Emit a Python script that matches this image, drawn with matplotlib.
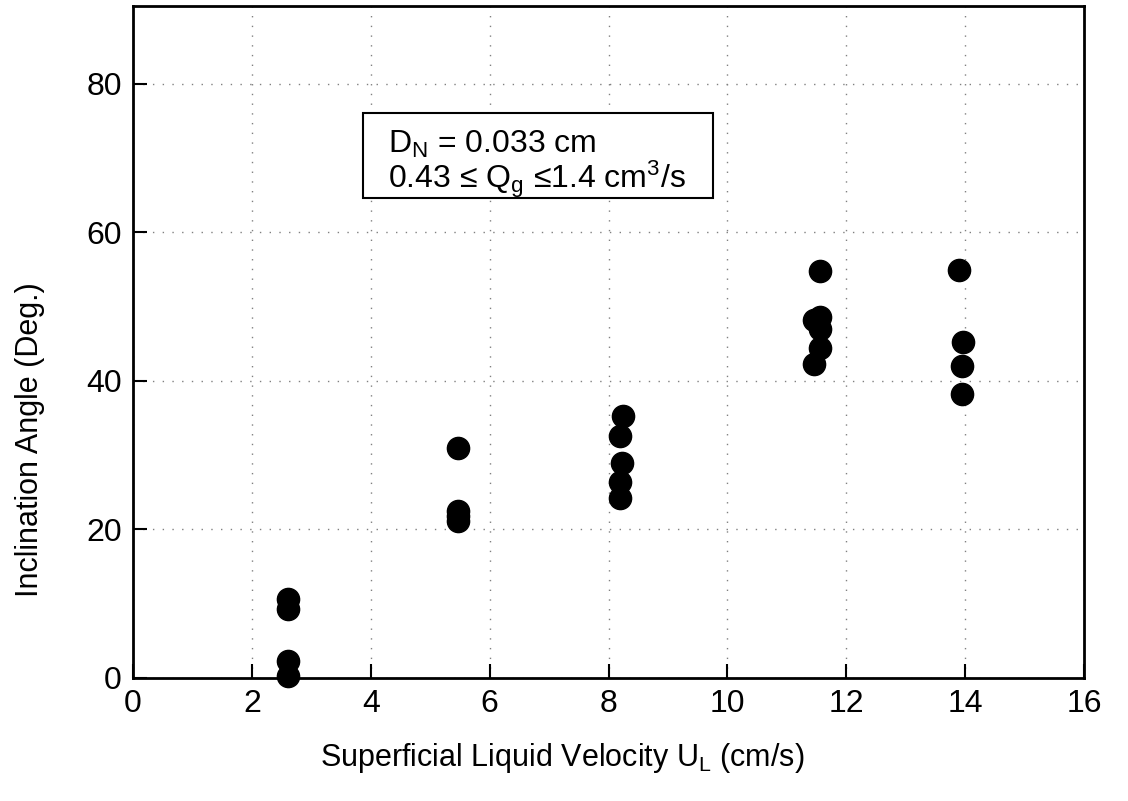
import matplotlib
matplotlib.use("Agg")
import matplotlib.pyplot as plt
from matplotlib.patches import Rectangle

plt.rcParams['font.family'] = ['Liberation Sans', 'DejaVu Sans']
plt.rcParams['mathtext.fontset'] = 'custom'
plt.rcParams['mathtext.rm'] = 'Liberation Sans'
plt.rcParams['mathtext.it'] = 'Liberation Sans'

# Data
ul_g1 = [2.6, 2.6, 2.6, 2.6]
ang_g1 = [10.6, 9.3, 2.3, 0.3]
ul_g2 = [5.47, 5.47, 5.47, 5.47]
ang_g2 = [31.0, 22.5, 21.8, 21.2]
ul_g3 = [8.25, 8.2, 8.22, 8.2, 8.2]
ang_g3 = [35.3, 32.6, 29.0, 26.4, 24.2]
ul_g4 = [11.55, 11.55, 11.45, 11.55, 11.55, 11.45]
ang_g4 = [54.8, 48.6, 48.2, 47.0, 44.5, 42.3]
ul_g5 = [13.9, 13.97, 13.95, 13.95]
ang_g5 = [55.0, 45.2, 42.0, 38.3]

x_ticks = [0, 2, 4, 6, 8, 10, 12, 14, 16]
y_ticks = [0, 20, 40, 60, 80]

fig = plt.figure(figsize=(11.28, 8.01), dpi=100)
ax = fig.add_axes([0.118, 0.1536, 0.843, 0.839])

xs = ul_g1 + ul_g2 + ul_g3 + ul_g4 + ul_g5
ys = ang_g1 + ang_g2 + ang_g3 + ang_g4 + ang_g5
ax.plot(xs, ys, 'o', color='black', markersize=16, clip_on=False, zorder=5)

ax.set_xlim(0, 16)
ax.set_ylim(0, 90.5)
ax.set_xticks(x_ticks)
ax.set_yticks(y_ticks)
ax.tick_params(direction='in', length=10, width=1.5, labelsize=23, pad=8)
ax.grid(True, linestyle=(0, (1, 6)), color='gray', linewidth=1.0)
for s in ax.spines.values():
    s.set_linewidth(2)

ax.set_xlabel('Superficial Liquid Velocity U$_\\mathregular{L}$ (cm/s)', fontsize=22)
ax.set_ylabel('Inclination Angle (Deg.)', fontsize=22)
ax.xaxis.set_label_coords(0.451, -0.094)
ax.yaxis.set_label_coords(-0.093, 0.354)

ax.add_patch(Rectangle((3.86, 64.6), 5.9, 11.5, fill=True, facecolor='white',
                       edgecolor='black', linewidth=1.5, zorder=4))
ax.text(4.29, 71.8, 'D$_\\mathregular{N}$ = 0.033 cm', fontsize=23, va='center', ha='left', zorder=6)
ax.text(4.29, 67.2, '0.43 ≤ Q$_\\mathregular{g}$ ≤1.4 cm$^\\mathregular{3}$/s', fontsize=23, va='center', ha='left', zorder=6)

fig.savefig('out.png', dpi=100)
